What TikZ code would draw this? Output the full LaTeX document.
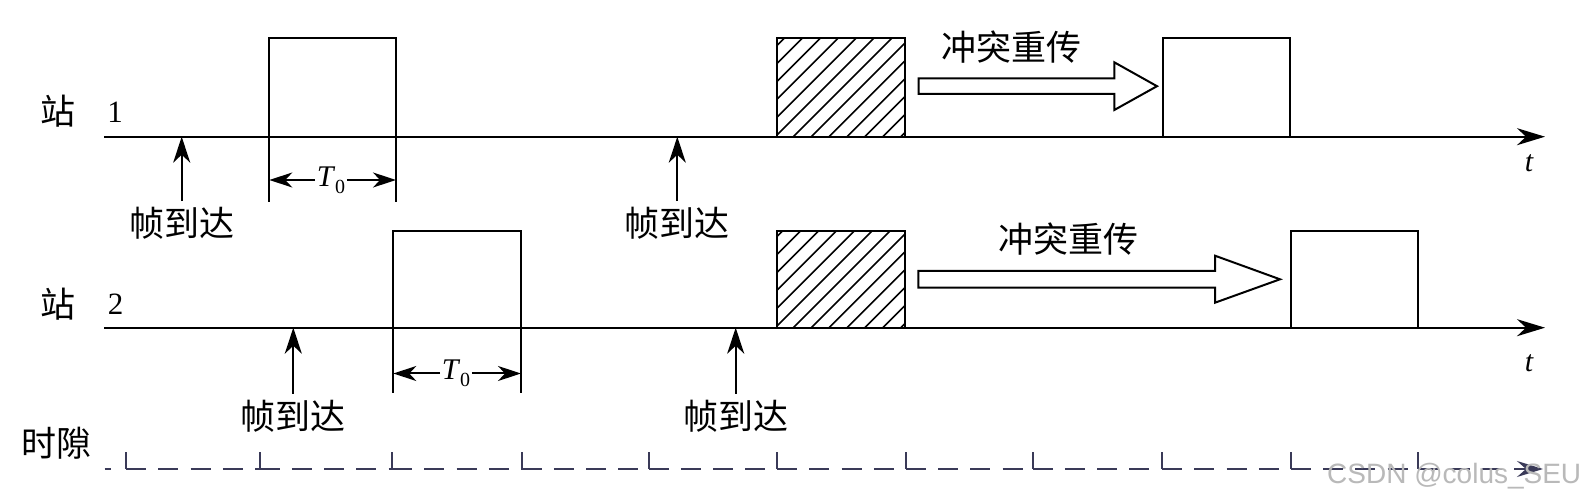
\documentclass[tikz,border=0pt]{standalone}
\usepackage{fontspec}
\setmainfont{Liberation Serif}
\newfontfamily\cjk{Noto Sans CJK SC}
\newfontfamily\wmfont{Liberation Sans}
\usetikzlibrary{arrows.meta}
\definecolor{slotcol}{RGB}{58,58,88}
\definecolor{wmgray}{RGB}{185,185,185}
\tikzset{
  frame/.style={draw=black, line width=2pt, fill=white, inner sep=0pt, outer sep=0pt, anchor=south west},
  axisline/.style={line width=2.3pt, -{Stealth[length=28pt,width=17pt,inset=9pt]}},
  arrival/.style={line width=2pt, -{Stealth[length=26pt,width=17pt,inset=8pt]}},
  dimline/.style={line width=2pt, -{Stealth[length=23pt,width=15pt,inset=7pt]}},
  edge/.style={line width=2pt},
  hatch/.style={line width=1.6pt},
  bigarrow/.style={draw=black, line width=2pt, fill=white, line join=miter},
  cjklabel/.style={font=\cjk\fontsize{35}{35}\selectfont, inner sep=0pt},
  numlabel/.style={font=\fontsize{31}{31}\selectfont, inner sep=0pt},
  tlabel/.style={font=\itshape\fontsize{30}{30}\selectfont, inner sep=0pt},
  dimlabel/.style={font=\fontsize{30}{30}\selectfont, inner sep=1.5pt},
  slotdash/.style={draw=slotcol, line width=2.2pt, dash pattern=on 20pt off 12.3pt},
  slottick/.style={draw=slotcol, line width=2pt},
  slotarrow/.style={draw=slotcol, line width=2.2pt, -{Stealth[length=26pt,width=16pt,inset=9pt]}}
}
\begin{document}
\begin{tikzpicture}[x=1pt,y=-1pt]
\fill[white] (0,0) rectangle (1585,502);
\useasboundingbox (0,0) rectangle (1585,502);

% ---------- station labels ----------
\node[cjklabel] (s1) at (58,111) {站};
\node[numlabel] (n1) at (115,112) {1};
\node[cjklabel] (s2) at (58,304) {站};
\node[numlabel] (n2) at (115.5,304) {2};
\node[cjklabel] (slot) at (56,443) {时隙};

% ---------- axes ----------
\coordinate (a1s) at (104,136.7);
\coordinate (a1e) at (1545,136.7);
\coordinate (a2s) at (104,327.7);
\coordinate (a2e) at (1545,327.7);
\draw[axisline] (a1s) -- (a1e);
\draw[axisline] (a2s) -- (a2e);
\node[tlabel] (t1) at (1529,163) {t};
\node[tlabel] (t2) at (1529,363) {t};

% ---------- station 1 frames ----------
\node[frame, minimum width=126.7pt, minimum height=98.4pt] (b1) at (269.3,136.7) {};
\node[frame, minimum width=128.6pt, minimum height=98.4pt] (h1) at (776.8,136.7) {};
\node[frame, minimum width=127.5pt, minimum height=98.4pt] (r1) at (1162.5,136.7) {};
\begin{scope}
  \clip (h1.south west) rectangle (h1.north east);
  \foreach \k in {0,...,12}
    \draw[hatch] ([xshift={-90.9pt+17.9pt*\k}]h1.south west) -- ++(120,-120);
\end{scope}
\draw[edge] (h1.south west) rectangle (h1.north east);

% ---------- station 2 frames ----------
\node[frame, minimum width=127.7pt, minimum height=96.7pt] (b2) at (393.3,327.7) {};
\node[frame, minimum width=128.6pt, minimum height=96.7pt] (h2) at (776.8,327.7) {};
\node[frame, minimum width=127.0pt, minimum height=96.7pt] (r2) at (1290.7,327.7) {};
\begin{scope}
  \clip (h2.south west) rectangle (h2.north east);
  \foreach \k in {0,...,12}
    \draw[hatch] ([xshift={-90.9pt+17.9pt*\k}]h2.south west) -- ++(120,-120);
\end{scope}
\draw[edge] (h2.south west) rectangle (h2.north east);

% ---------- T0 dimensions ----------
\draw[edge] (b1.south west) -- ++(0,65);
\draw[edge] (b1.south east) -- ++(0,65);
\node[dimlabel] (d1) at (331,180) {\textit{T}\raisebox{-7pt}{\fontsize{20}{20}\selectfont 0}};
\draw[dimline] (d1.west) -- (b1.south west |- d1.west);
\draw[dimline] (d1.east) -- (b1.south east |- d1.east);

\draw[edge] (b2.south west) -- ++(0,65);
\draw[edge] (b2.south east) -- ++(0,65);
\node[dimlabel] (d2) at (456,373.5) {\textit{T}\raisebox{-7pt}{\fontsize{20}{20}\selectfont 0}};
\draw[dimline] (d2.west) -- (b2.south west |- d2.west);
\draw[dimline] (d2.east) -- (b2.south east |- d2.east);

% ---------- frame arrivals ----------
\node[cjklabel] (f11) at (181.7,223.5) {帧到达};
\node[cjklabel] (f12) at (677.3,223.5) {帧到达};
\node[cjklabel] (f21) at (293.3,416) {帧到达};
\node[cjklabel] (f22) at (735.7,416) {帧到达};
\draw[arrival, shorten <=6pt] (f11.north) -- (f11.north |- a1s);
\draw[arrival, shorten <=6pt] (f12.north) -- (f12.north |- a1s);
\draw[arrival, shorten <=6pt] (f21.north) -- (f21.north |- a2s);
\draw[arrival, shorten <=6pt] (f22.north) -- (f22.north |- a2s);

% ---------- collision retransmission arrows ----------
\node[cjklabel] (c1) at (1011,46.7) {冲突重传};
\draw[bigarrow] (918.6,78.3) -- (1114.3,78.3) -- (1114.3,62.3) -- (1157,86.2)
  -- (1114.3,110) -- (1114.3,94) -- (918.6,94) -- cycle;
\node[cjklabel] (c2) at (1068,239.3) {冲突重传};
\draw[bigarrow] (918.3,271) -- (1215,271) -- (1215,255.7) -- (1280,279.3)
  -- (1215,302.7) -- (1215,287.7) -- (918.3,287.7) -- cycle;

% ---------- time slots ----------
\draw[slottick] (104.6,469) -- (111,469);
\foreach \a/\b in {126/259.5, 259.5/392, 392/521.5, 521.5/648.5, 648.5/777,
                   777/905.8, 905.8/1032.5, 1032.5/1162, 1162/1290.7, 1290.7/1417.7} {
  \draw[slottick] (\a,452) -- (\a,469);
  \draw[slotdash] (\a,469) -- (\b,469);
}
\draw[slottick] (1417.7,452) -- (1417.7,469);
\draw[slotdash] (1417.7,469) -- (1512,469);
\draw[slotarrow] (1514,469) -- (1543,469);

% ---------- watermark ----------
\node[font=\wmfont\fontsize{28}{28}\selectfont, text=wmgray, anchor=base west, inner sep=0pt] (wm) at (1327,483) {CSDN @colus\_SEU};
\end{tikzpicture}
\end{document}
